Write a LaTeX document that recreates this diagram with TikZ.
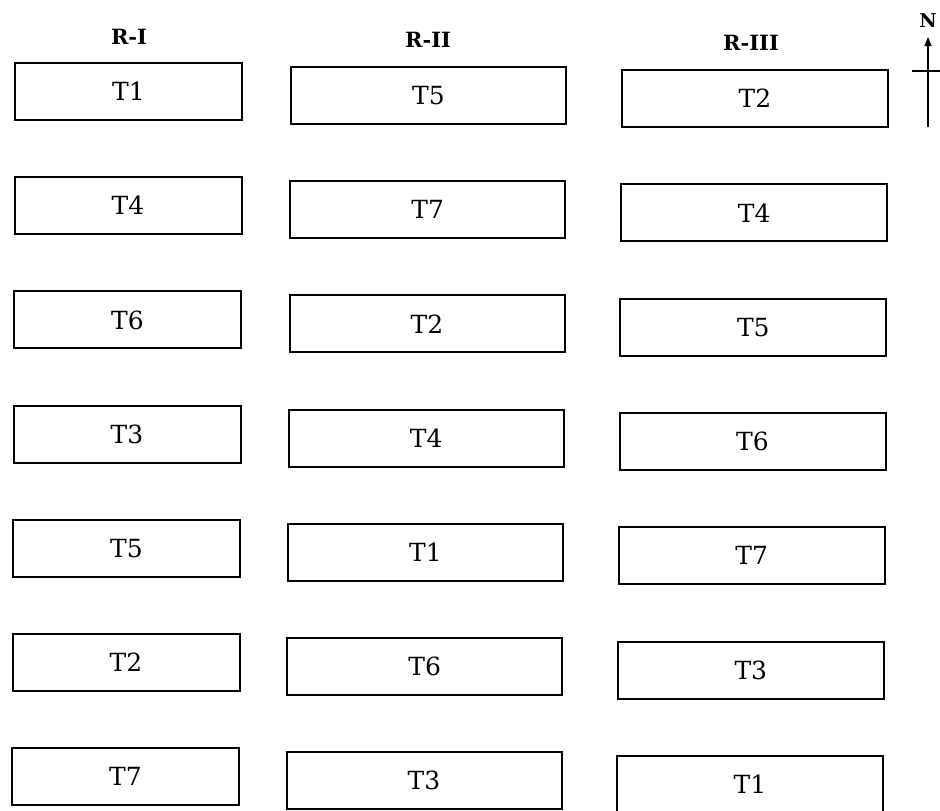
\documentclass[tikz,border=0pt]{standalone}
\usepackage{fontspec}
\setmainfont{DejaVu Serif}
\usetikzlibrary{arrows.meta}
\begin{document}
\begin{tikzpicture}[x=1pt,y=-1pt,
  plot/.style={draw,line width=2pt,inner sep=0pt,minimum height=57pt,font=\fontsize{25}{30}\selectfont},
  rephead/.style={font=\fontsize{21}{26}\selectfont\bfseries,inner sep=0pt}]
\useasboundingbox (0,0) rectangle (940,811);
% replicate headings
\node[rephead] (h1) at (129,37) {R-I};
\node[rephead] (h2) at (428,40) {R-II};
\node[rephead] (h3) at (751,43) {R-III};
% column 1
\foreach \k/\t in {0/T1,1/T4,2/T6,3/T3,4/T5,5/T2,6/T7}
  \node[plot,minimum width=227pt] (a\k) at ({128.5-0.5*\k},{91.5+114.2*\k}) {\t};
% column 2
\foreach \k/\t in {0/T5,1/T7,2/T2,3/T4,4/T1,5/T6,6/T3}
  \node[plot,minimum width=275pt] (b\k) at ({428.5-0.75*\k},{95.5+114.2*\k}) {\t};
% column 3
\foreach \k/\t in {0/T2,1/T4,2/T5,3/T6,4/T7,5/T3,6/T1}
  \node[plot,minimum width=266pt] (c\k) at ({755-0.83*\k},{98.5+114.3*\k}) {\t};
% north arrow
\node[font=\fontsize{19}{24}\selectfont\bfseries,inner sep=0pt] (N) at (928,21) {N};
\coordinate (nb) at (928,127);
\coordinate (nt) at (928,37);
\coordinate (wl) at (912,71);
\coordinate (wr) at (940,71);
\draw[line width=1.3pt,-{Triangle[length=9pt,width=7pt]}] (nb) -- (nt);
\draw[line width=1.3pt] (wl) -- (wr);
\end{tikzpicture}
\end{document}
